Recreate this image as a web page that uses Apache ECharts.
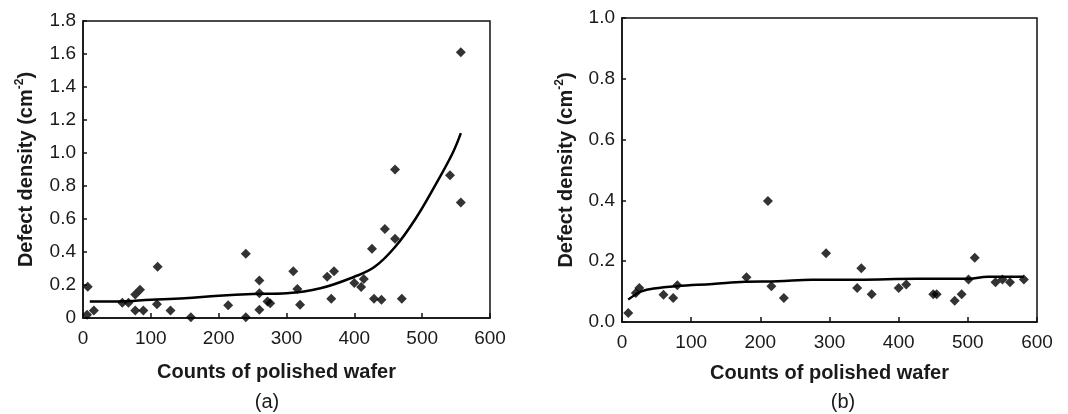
<!DOCTYPE html>
<html>
<head>
<meta charset="utf-8">
<title>Defect density vs counts of polished wafer</title>
<script src="https://cdn.jsdelivr.net/npm/echarts@6/dist/echarts.min.js"></script>
<style>
  html, body { margin: 0; padding: 0; background: #fff; }
  #chart { width: 1068px; height: 414px; }
</style>
</head>
<body>
<div id="chart"></div>
<script>
// panel (a): measured points
const countsA = [6, 7, 16, 58, 67, 77, 84, 77, 89, 110, 109, 129, 159, 214, 240, 240, 260, 260, 260, 272, 276,
  310, 316, 320, 360, 370, 366, 400, 410, 414, 426, 429, 440, 445, 460, 460, 470, 541, 557, 557];
const densityA = [0.02, 0.19, 0.045, 0.093, 0.093, 0.142, 0.171, 0.045, 0.045, 0.31, 0.083, 0.045, 0.005, 0.078, 0.005, 0.39, 0.228, 0.15, 0.05, 0.1, 0.09,
  0.283, 0.176, 0.08, 0.25, 0.283, 0.117, 0.212, 0.188, 0.236, 0.42, 0.117, 0.111, 0.54, 0.9, 0.48, 0.117, 0.865, 1.61, 0.7];
// panel (a): fitted curve
const fitCountsA = [10, 50, 100, 150, 200, 250, 300, 350, 400, 430, 460, 490, 520, 545, 557];
const fitDensityA = [0.10, 0.10, 0.11, 0.12, 0.135, 0.145, 0.15, 0.18, 0.25, 0.31, 0.43, 0.6, 0.81, 1.0, 1.12];

// panel (b): measured points
const countsB = [9, 20, 25, 60, 74, 80, 180, 211, 216, 234, 295, 340, 346, 361, 400, 411, 450, 455, 481, 491, 501, 510, 540, 550, 561, 581];
const densityB = [0.03, 0.095, 0.112, 0.09, 0.079, 0.121, 0.147, 0.398, 0.118, 0.079, 0.226, 0.112, 0.177, 0.091, 0.112, 0.123, 0.091, 0.091, 0.07, 0.091, 0.14, 0.211, 0.131, 0.14, 0.131, 0.14];
// panel (b): fitted curve
const fitCountsB = [9, 18, 27, 46, 79, 131, 178, 225, 275, 341, 426, 501, 529, 581];
const fitDensityB = [0.074, 0.088, 0.10, 0.11, 0.118, 0.125, 0.132, 0.134, 0.139, 0.139, 0.142, 0.142, 0.149, 0.149];

const panelLabels = ["(a)", "(b)"];
const xName = "Counts of polished wafer";

const FONT = "'Liberation Sans', Arial, sans-serif";
const zip = (xs, ys) => xs.map((x, i) => [x, ys[i]]);

const xAxisBase = (gridIndex, gap, padRight) => ({
  gridIndex,
  type: "value",
  min: 0,
  max: 600,
  interval: 100,
  name: xName,
  nameLocation: "middle",
  nameGap: gap,
  nameTextStyle: { fontFamily: FONT, fontSize: 20, fontWeight: "bold", color: "#1a1a1a", padding: [0, padRight, 0, 0] },
  axisLine: { lineStyle: { color: "#111", width: 1.5 } },
  axisTick: { inside: true, length: 5, lineStyle: { color: "#111", width: 1.5 } },
  axisLabel: { fontFamily: FONT, fontSize: 19, color: "#1a1a1a", margin: 11 },
  splitLine: { show: false },
});

const yAxisBase = (gridIndex, max, zeroLabel, gap) => ({
  gridIndex,
  type: "value",
  min: 0,
  max,
  interval: 0.2,
  name: "{n|Defect density (cm}{s|-2}{n|)}",
  nameLocation: "middle",
  nameRotate: 90,
  nameGap: gap,
  nameTextStyle: {
    rich: {
      n: { fontFamily: FONT, fontSize: 20, fontWeight: "bold", color: "#1a1a1a", lineHeight: 24 },
      s: { fontFamily: FONT, fontSize: 12, fontWeight: "bold", color: "#1a1a1a", lineHeight: 24, verticalAlign: "top", padding: [0, 0, 8, 0] },
    },
  },
  axisLine: { lineStyle: { color: "#111", width: 1.5 } },
  axisTick: { inside: true, length: 4, lineStyle: { color: "#111", width: 1.5 } },
  axisLabel: {
    fontFamily: FONT,
    fontSize: 19,
    color: "#1a1a1a",
    margin: 7,
    formatter: (v) => (v === 0 ? zeroLabel : v.toFixed(1)),
  },
  splitLine: { show: false },
});

const scatter = (i, xs, ys) => ({
  type: "scatter",
  xAxisIndex: i,
  yAxisIndex: i,
  data: zip(xs, ys),
  symbol: "diamond",
  symbolSize: 10,
  itemStyle: { color: "#000" },
  z: 3,
});

const fitLine = (i, xs, ys) => ({
  type: "line",
  xAxisIndex: i,
  yAxisIndex: i,
  data: zip(xs, ys),
  smooth: 0.4,
  symbol: "none",
  lineStyle: { color: "#000", width: 2.5 },
  z: 2,
});

const chart = echarts.init(document.getElementById("chart"));

chart.setOption({
  backgroundColor: "#fff",
  animation: false,
  title: [
    { text: panelLabels[0], left: 267, top: 392, textAlign: "center", padding: 0,
      textStyle: { fontFamily: FONT, fontSize: 20, fontWeight: "normal", color: "#1a1a1a" } },
    { text: panelLabels[1], left: 843, top: 392, textAlign: "center", padding: 0,
      textStyle: { fontFamily: FONT, fontSize: 20, fontWeight: "normal", color: "#1a1a1a" } },
  ],
  grid: [
    { left: 83, right: 578, top: 21, bottom: 96, show: true, borderColor: "#111", borderWidth: 1.5 },
    { left: 622, right: 31, top: 18, bottom: 92, show: true, borderColor: "#111", borderWidth: 1.5 },
  ],
  xAxis: [xAxisBase(0, 44, 20), xAxisBase(1, 41, 0)],
  yAxis: [yAxisBase(0, 1.8, "0", 45), yAxisBase(1, 1.0, "0.0", 44)],
  series: [
    scatter(0, countsA, densityA),
    fitLine(0, fitCountsA, fitDensityA),
    scatter(1, countsB, densityB),
    fitLine(1, fitCountsB, fitDensityB),
  ],
});
</script>
</body>
</html>
